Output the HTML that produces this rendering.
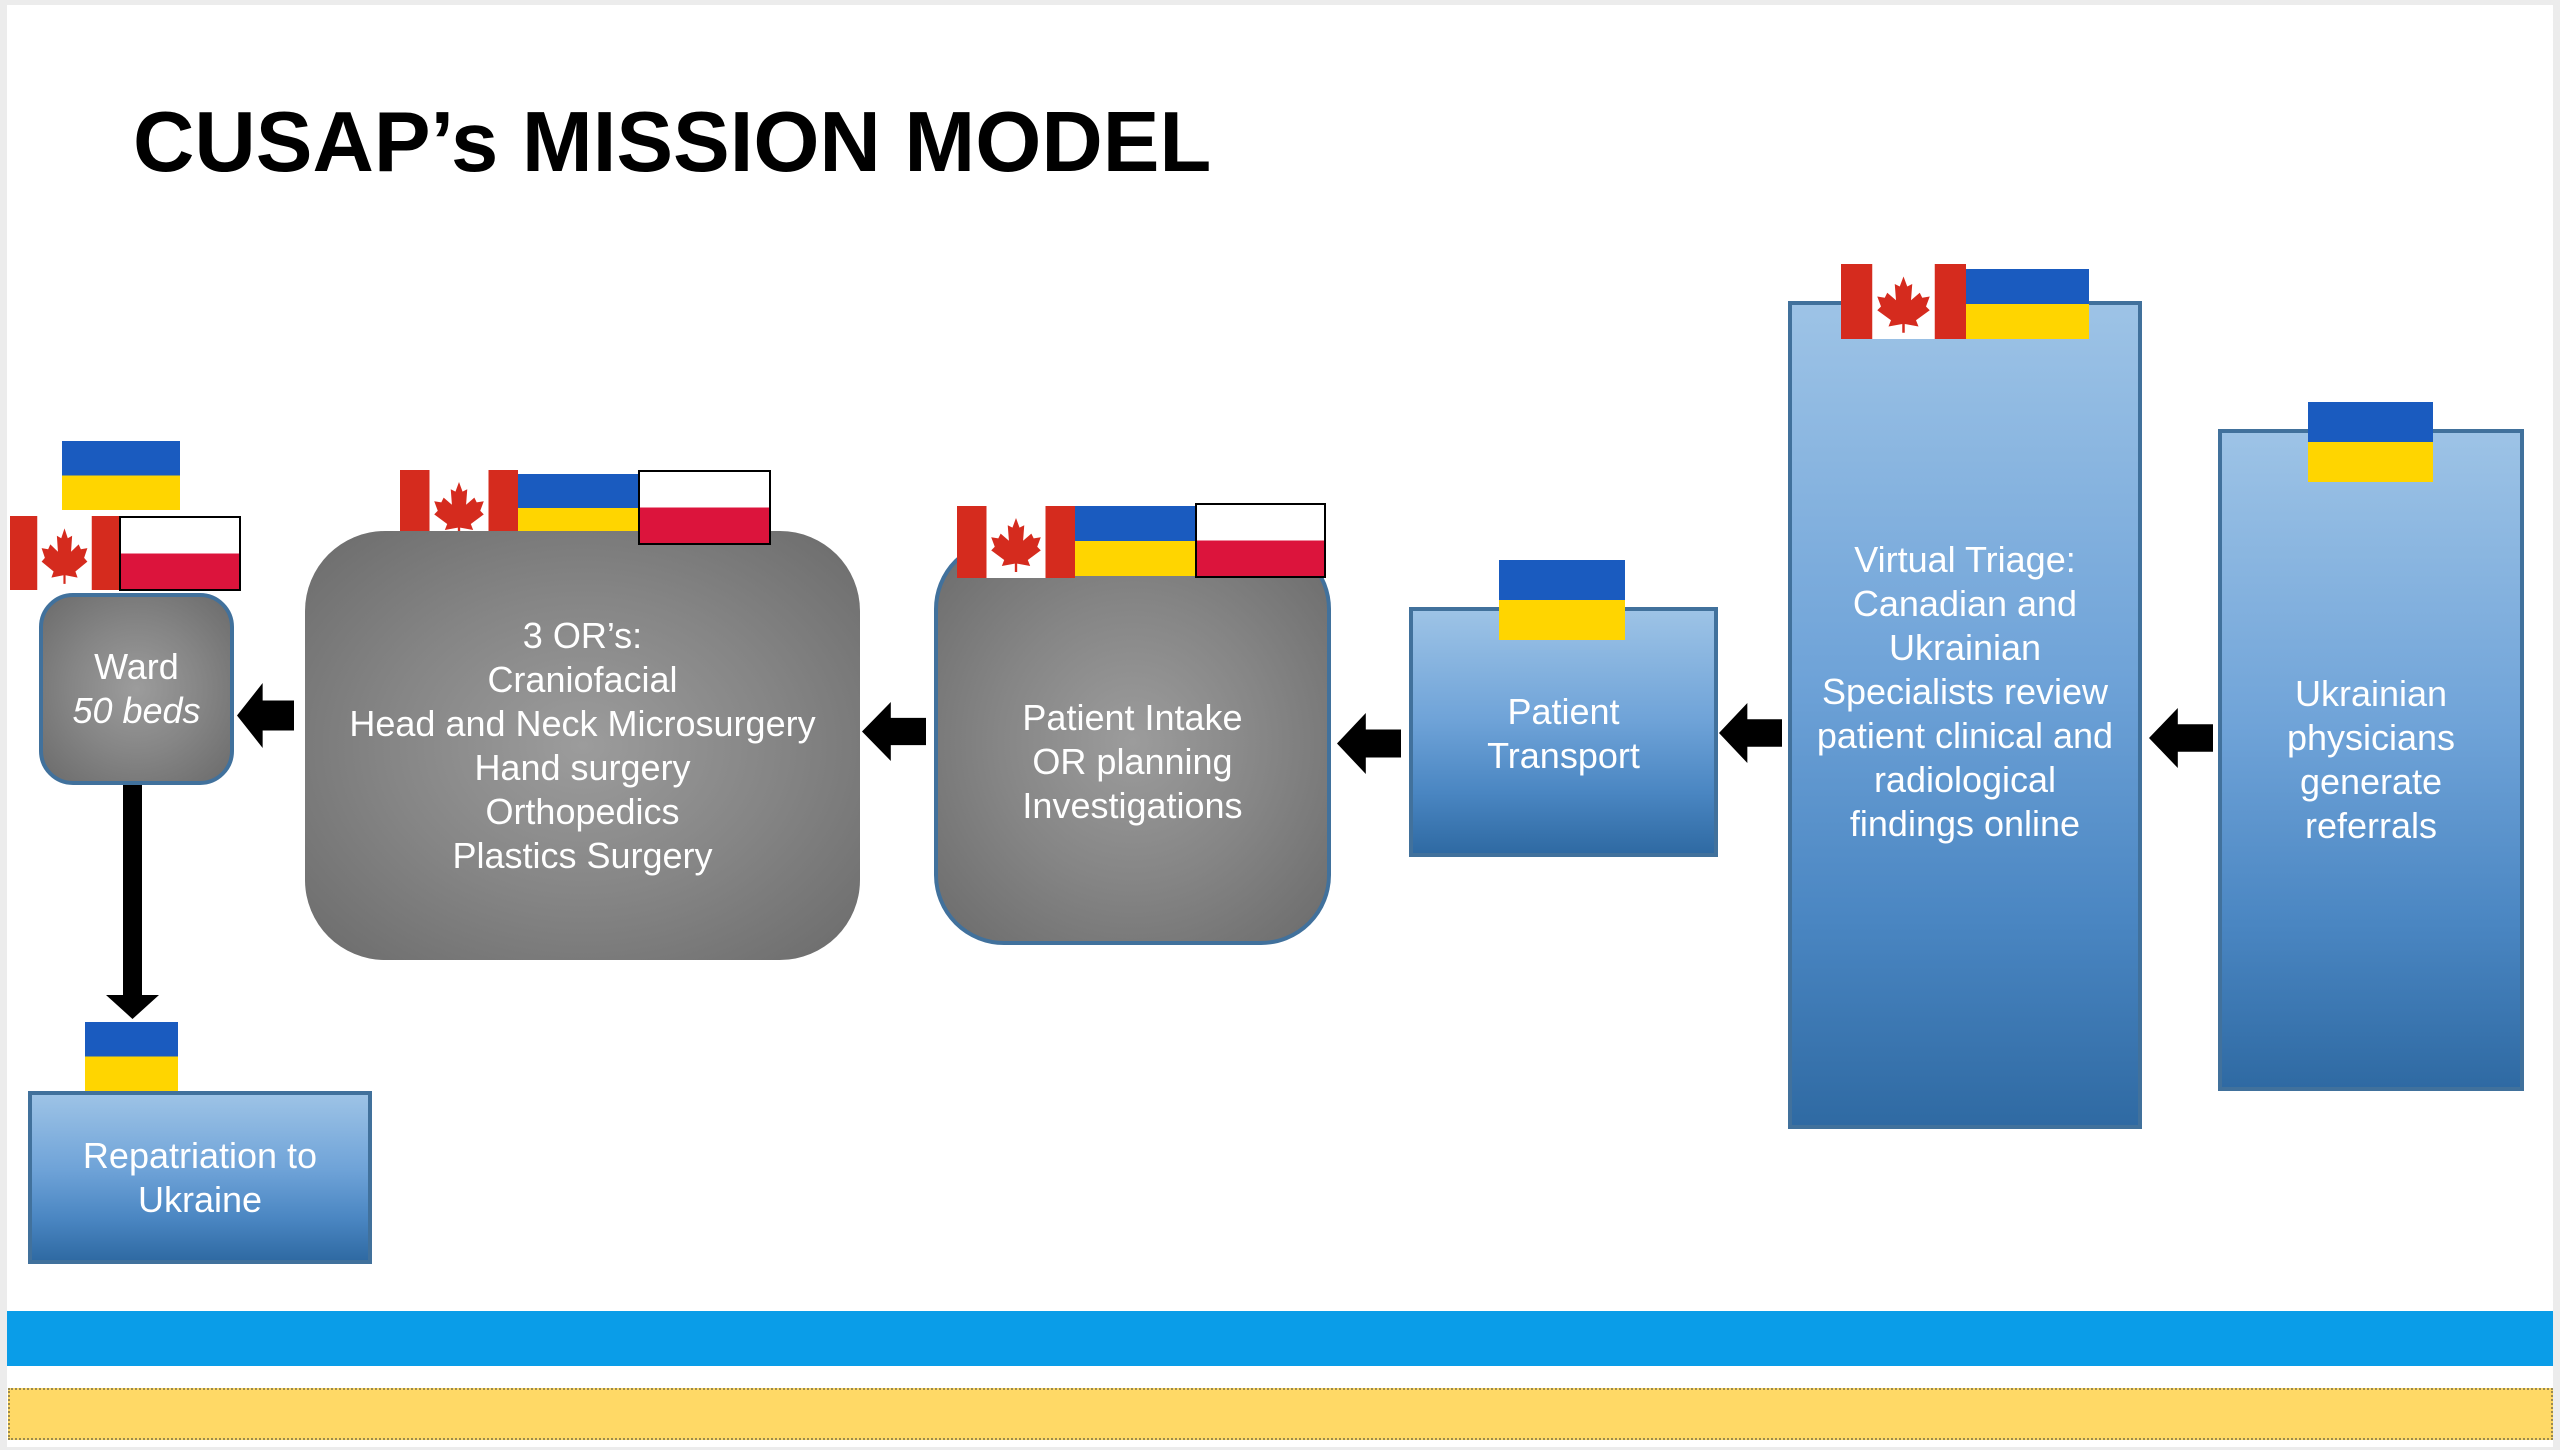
<!DOCTYPE html>
<html><head><meta charset="utf-8"><style>
*{margin:0;padding:0;box-sizing:border-box}
body{width:2560px;height:1450px;background:#ececec;position:relative;overflow:hidden;font-family:"Liberation Sans",Arial,sans-serif}
.slide{position:absolute;left:7px;top:5px;width:2546px;height:1442px;background:#fff}
.a{position:absolute}
.blue{background:linear-gradient(#9dc3e6,#6fa3d8 45%,#4a86c2 75%,#2f6aa3);border:4px solid #41719c}
.gray{background:radial-gradient(ellipse at center,#9c9c9c 0%,#858585 50%,#6b6b6b 100%);border:3px solid #41719c}
.t{position:absolute;color:#fff;font-size:36px;line-height:44px;text-align:center;display:flex;align-items:center;justify-content:center}
.t>div{display:block}
.ua{position:absolute;background:linear-gradient(#1a5bbf 50%,#ffd500 50%)}
.pl{position:absolute;background:linear-gradient(#fff 50%,#dc143c 50%);border:2px solid #000}
svg{position:absolute}
</style></head><body>
<div class="slide"></div>
<div class="a" style="left:133px;top:94px;font-size:85px;font-weight:bold;color:#000;white-space:nowrap">CUSAP’s MISSION MODEL</div>

<div class="a" style="left:7px;top:1311px;width:2546px;height:55px;background:#0a9de8"></div>
<div class="a" style="left:8px;top:1388px;width:2545px;height:52px;background:#ffd966;border:2px dotted #9a8a50"></div>

<svg width="0" height="0"><defs>
<g id="ca"><rect width="100" height="60" fill="#fff"/><rect width="25" height="60" fill="#d52b1e"/><rect x="75" width="25" height="60" fill="#d52b1e"/>
<polygon fill="#d52b1e" points="50,10 53,18 57,16 56,29 63,23 65,27 71,26 68,34 71,37 60,45 62,50 51,48 51,55 49,55 49,48 38,50 40,45 29,37 32,34 29,26 35,27 37,23 44,29 43,16 47,18"/></g>
<polygon id="arr" points="0,50 45,0 45,27 100,27 100,73 45,73 45,100"/>
</defs></svg>

<!-- Ward -->
<div class="ua" style="left:62px;top:441px;width:118px;height:69px"></div>
<svg style="left:10px;top:516px" width="109" height="74" viewBox="0 0 100 60" preserveAspectRatio="none"><use href="#ca"/></svg>
<div class="pl" style="left:119px;top:516px;width:122px;height:75px"></div>
<div class="a gray" style="left:39px;top:593px;width:195px;height:192px;border-radius:34px;border-width:4px"></div>
<div class="t" style="left:39px;top:593px;width:195px;height:192px"><div>Ward<br><i>50 beds</i></div></div>

<div class="a" style="left:123px;top:785px;width:19px;height:215px;background:#000"></div>
<svg style="left:106px;top:995px" width="53" height="24"><polygon points="0,0 53,0 26.5,24" fill="#000"/></svg>

<!-- Repatriation -->
<div class="ua" style="left:85px;top:1022px;width:93px;height:69px"></div>
<div class="a blue" style="left:28px;top:1091px;width:344px;height:173px"></div>
<div class="t" style="left:28px;top:1091px;width:344px;height:173px"><div>Repatriation to<br>Ukraine</div></div>

<!-- OR box -->
<svg style="left:400px;top:470px" width="118" height="72" viewBox="0 0 100 60" preserveAspectRatio="none"><use href="#ca"/></svg>
<div class="ua" style="left:518px;top:474px;width:120px;height:68px"></div>
<div class="gray a" style="left:305px;top:531px;width:555px;height:429px;border-radius:80px;border:none"></div>
<div class="pl" style="left:638px;top:470px;width:133px;height:75px"></div>
<div class="t" style="left:305px;top:531px;width:555px;height:429px"><div>3 OR’s:<br>Craniofacial<br>Head and Neck Microsurgery<br>Hand surgery<br>Orthopedics<br>Plastics Surgery</div></div>

<!-- Intake -->
<div class="gray a" style="left:934px;top:539px;width:397px;height:406px;border-radius:70px;border-width:4px"></div>
<svg style="left:957px;top:506px" width="118" height="72" viewBox="0 0 100 60" preserveAspectRatio="none"><use href="#ca"/></svg>
<div class="ua" style="left:1075px;top:506px;width:120px;height:70px"></div>
<div class="pl" style="left:1195px;top:503px;width:131px;height:75px"></div>
<div class="t" style="left:934px;top:559px;width:397px;height:406px"><div>Patient Intake<br>OR planning<br>Investigations</div></div>

<!-- Transport -->
<div class="a blue" style="left:1409px;top:607px;width:309px;height:250px"></div>
<div class="ua" style="left:1499px;top:560px;width:126px;height:80px"></div>
<div class="t" style="left:1409px;top:607px;width:309px;height:250px;padding-top:4px"><div>Patient<br>Transport</div></div>

<!-- Triage -->
<div class="a blue" style="left:1788px;top:301px;width:354px;height:828px"></div>
<svg style="left:1841px;top:264px" width="125" height="75" viewBox="0 0 100 60" preserveAspectRatio="none"><use href="#ca"/></svg>
<div class="ua" style="left:1966px;top:269px;width:123px;height:70px"></div>
<div class="t" style="left:1788px;top:469px;width:354px;height:446px"><div>Virtual Triage:<br>Canadian and<br>Ukrainian<br>Specialists review<br>patient clinical and<br>radiological<br>findings online</div></div>

<!-- Referrals -->
<div class="a blue" style="left:2218px;top:429px;width:306px;height:662px"></div>
<div class="ua" style="left:2308px;top:402px;width:125px;height:80px"></div>
<div class="t" style="left:2218px;top:670px;width:306px;height:180px"><div>Ukrainian<br>physicians<br>generate<br>referrals</div></div>

<svg style="left:237px;top:683px" width="57" height="65" viewBox="0 0 100 100" preserveAspectRatio="none"><use href="#arr"/></svg>
<svg style="left:862px;top:702px" width="64" height="59" viewBox="0 0 100 100" preserveAspectRatio="none"><use href="#arr"/></svg>
<svg style="left:1337px;top:713px" width="64" height="61" viewBox="0 0 100 100" preserveAspectRatio="none"><use href="#arr"/></svg>
<svg style="left:1719px;top:703px" width="63" height="60" viewBox="0 0 100 100" preserveAspectRatio="none"><use href="#arr"/></svg>
<svg style="left:2149px;top:708px" width="64" height="60" viewBox="0 0 100 100" preserveAspectRatio="none"><use href="#arr"/></svg>
</body></html>
